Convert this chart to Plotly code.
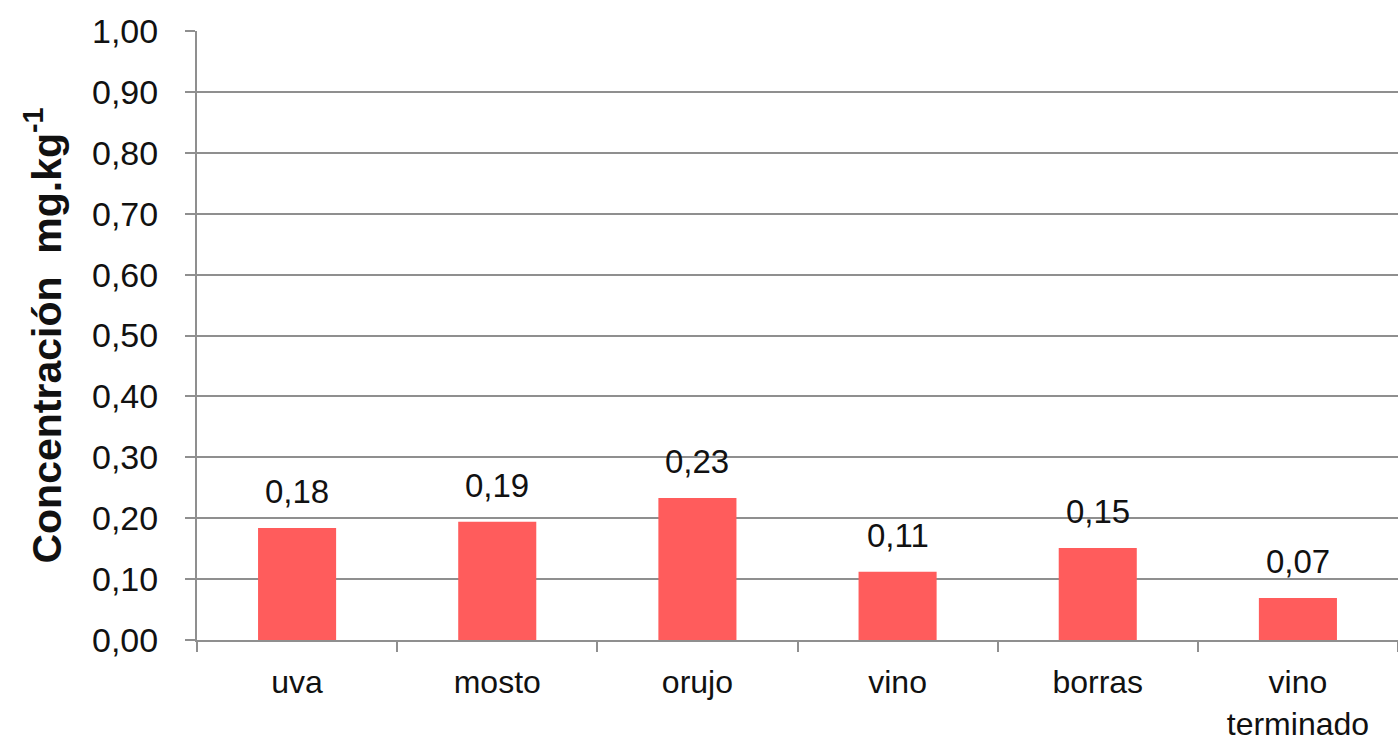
import plotly.graph_objects as go

categories = ["uva", "mosto", "orujo", "vino", "borras", "vino<br>terminado"]
values = [0.184, 0.194, 0.233, 0.112, 0.151, 0.069]
labels = ["0,18", "0,19", "0,23", "0,11", "0,15", "0,07"]
y_ticks = [0.0, 0.1, 0.2, 0.3, 0.4, 0.5, 0.6, 0.7, 0.8, 0.9, 1.0]
y_ticktext = ["0,00", "0,10", "0,20", "0,30", "0,40", "0,50", "0,60", "0,70", "0,80", "0,90", "1,00"]

FONT = "Liberation Sans, Arial, sans-serif"
GRID = "#8f8f8f"

fig = go.Figure()
fig.add_trace(go.Bar(
    x=categories, y=values,
    marker=dict(color="#FF5C5C", line=dict(width=0)),
    width=0.39,
    hoverinfo="skip",
))

for c, v, t in zip(categories, values, labels):
    fig.add_annotation(x=c, y=v, text=t, showarrow=False, yanchor="bottom",
                       yshift=16, font=dict(family=FONT, size=33, color="#111111"))

fig.update_layout(
    width=1398, height=745,
    margin=dict(l=197, r=0, t=31, b=105),
    paper_bgcolor="white", plot_bgcolor="white",
    showlegend=False,
    font=dict(family=FONT, size=33, color="#111111"),
    bargap=0.61,
)
fig.update_xaxes(
    type="category",
    automargin=False,
    showline=True, linecolor=GRID, linewidth=2,
    ticks="outside", ticklen=10, tickcolor=GRID, tickwidth=1.5,
    tickson="boundaries",
    showgrid=False,
    tickfont=dict(family=FONT, size=32, color="#111111"),
    ticklabelstandoff=13,
)
fig.update_yaxes(
    range=[0, 1.0],
    automargin=False,
    tickvals=y_ticks, ticktext=y_ticktext,
    showline=True, linecolor=GRID, linewidth=2,
    ticks="outside", ticklen=10, tickcolor=GRID, tickwidth=1.5,
    showgrid=True, gridcolor=GRID, gridwidth=1.5,
    zeroline=False,
    tickfont=dict(family=FONT, size=34, color="#111111"),
    ticklabelstandoff=20,
    title=dict(text="<b>Concentración  mg.kg<sup>-1</sup></b>",
               font=dict(family=FONT, size=41, color="#111111"), standoff=18),
)

fig.write_html("out.html")
